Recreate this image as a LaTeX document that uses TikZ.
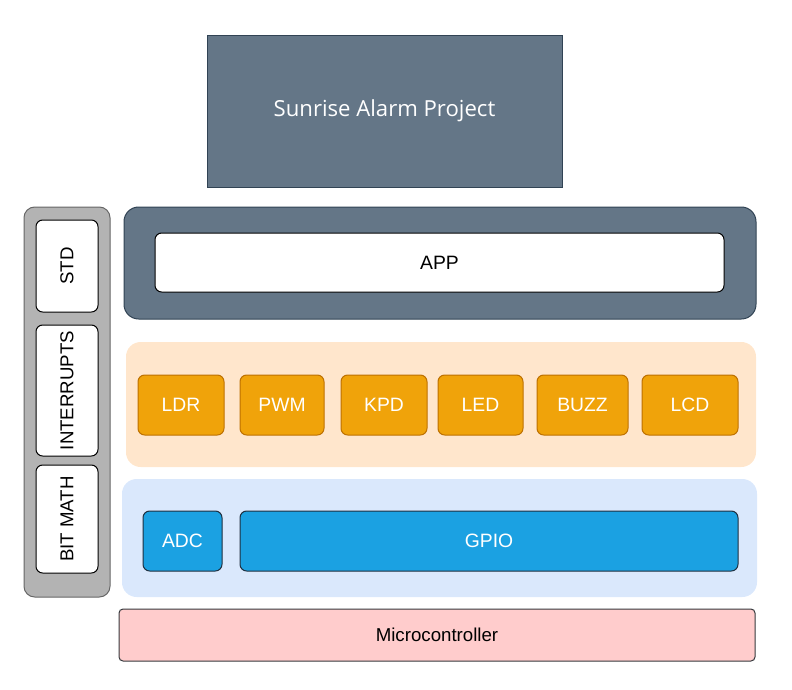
\documentclass[tikz,border=0pt]{standalone}
\usepackage{fontspec}
\setmainfont{Liberation Sans}
\newfontfamily\titlefont{Open Sans}
\definecolor{slate}{HTML}{647687}
\definecolor{slateline}{HTML}{314354}
\definecolor{grayfill}{HTML}{B3B3B3}
\definecolor{grayline}{HTML}{666666}
\definecolor{orangebg}{HTML}{FFE6CC}
\definecolor{orangefill}{HTML}{F0A30A}
\definecolor{orangeline}{HTML}{BD7000}
\definecolor{bluebg}{HTML}{DAE8FC}
\definecolor{bluefill}{HTML}{1BA1E2}
\definecolor{blueline}{HTML}{1F2F3F}
\definecolor{pinkfill}{HTML}{FFCCCC}
\definecolor{pinkline}{HTML}{36393D}
\begin{document}
\begin{tikzpicture}[x=0.75pt,y=-0.75pt,
  every node/.style={inner sep=0pt,outer sep=0pt,line width=0.75pt},
  titlebox/.style={draw=slateline,fill=slate,text=white,font=\titlefont\fontsize{16.6}{20}\selectfont},
  layer/.style={rounded corners=11pt},
  sidebox/.style={draw=black,fill=white,rounded corners=5pt,rotate=90,minimum height=46.5pt,font=\fontsize{14}{17}\selectfont},
  drvbox/.style={draw=orangeline,fill=orangefill,text=white,rounded corners=5pt,minimum height=45pt,font=\fontsize{14.5}{17}\selectfont},
  mcalbox/.style={draw=blueline,fill=bluefill,text=white,rounded corners=5pt,minimum height=45pt,font=\fontsize{14.5}{17}\selectfont}]
\useasboundingbox (0,0) rectangle (792,689);
\node[titlebox,minimum width=266.25pt,minimum height=114pt] (title) at (384.5,111) {Sunrise Alarm Project};
% left column
\node[layer,draw=grayline,fill=grayfill,rounded corners=8pt,minimum width=64.5pt,minimum height=292.5pt] (libs) at (67,402) {};
\node[sidebox,minimum width=69pt] (std) at (67,266) {STD};
\node[sidebox,minimum width=98.25pt] (irq) at (67,390.5) {INTERRUPTS};
\node[sidebox,minimum width=81pt] (bit) at (67,519) {BIT MATH};
% app layer
\node[layer,draw=slateline,fill=slate,minimum width=474pt,minimum height=84pt] (applayer) at (440,263) {};
\node[draw=black,fill=white,rounded corners=5pt,minimum width=426.75pt,minimum height=44.25pt,font=\fontsize{14.5}{17}\selectfont] (app) at (439.5,262.5) {APP};
% HAL layer
\node[layer,fill=orangebg,minimum width=472.5pt,minimum height=93.75pt] (hal) at (441,404.5) {};
\node[drvbox,minimum width=64.5pt] (ldr) at (181,405) {LDR};
\node[drvbox,minimum width=63pt] (pwm) at (282,405) {PWM};
\node[drvbox,minimum width=64.5pt] (kpd) at (384,405) {KPD};
\node[drvbox,minimum width=63.75pt] (led) at (480.5,405) {LED};
\node[drvbox,minimum width=68.25pt] (buzz) at (582.5,405) {BUZZ};
\node[drvbox,minimum width=72pt] (lcd) at (690,405) {LCD};
% MCAL layer
\node[layer,fill=bluebg,minimum width=476.25pt,minimum height=88.5pt] (mcal) at (439.5,538) {};
\node[mcalbox,minimum width=59.25pt] (adc) at (182.5,541) {ADC};
\node[mcalbox,minimum width=373.5pt] (gpio) at (489,541) {GPIO};
% microcontroller
\node[draw=pinkline,fill=pinkfill,rounded corners=3pt,minimum width=477pt,minimum height=39pt,font=\fontsize{14}{17}\selectfont] (mcu) at (437,635) {Microcontroller};
\end{tikzpicture}
\end{document}
